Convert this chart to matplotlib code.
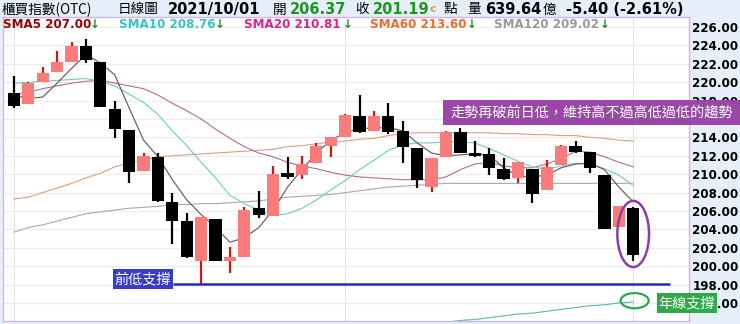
import matplotlib
matplotlib.use('Agg')
import matplotlib.pyplot as plt
from matplotlib.patches import Ellipse, Rectangle
import numpy as np

# OHLC (daily, last candle = 2021/10/01)
opens = [218.83, 217.63, 220.02, 221.11, 222.20, 223.93, 222.20, 217.09, 214.80, 210.35,
         211.87, 206.98, 204.91, 200.57, 205.13, 200.57, 201.00, 206.33, 205.46, 210.13,
         209.91, 211.22, 213.07, 214.04, 216.33, 214.70, 216.33, 214.70, 212.85, 208.61,
         211.87, 214.59, 212.30, 212.20, 210.57, 209.59, 210.57, 208.28, 211.00, 213.07,
         212.41, 209.91, 204.26, 206.37]
highs = [220.67, 220.00, 221.65, 223.39, 224.37, 224.70, 222.20, 217.96, 214.80, 212.30,
         212.30, 207.96, 205.78, 205.35, 205.13, 202.09, 206.43, 208.17, 210.89, 211.87,
         211.98, 213.39, 214.04, 216.50, 218.61, 216.87, 217.74, 215.78, 212.85, 211.76,
         214.65, 215.02, 213.61, 212.85, 211.76, 211.33, 210.60, 211.54, 213.20, 213.61,
         212.45, 209.95, 206.54, 206.45]
lows = [217.20, 217.60, 220.00, 221.10, 222.20, 222.09, 217.30, 213.93, 209.04, 210.35,
        207.00, 202.41, 200.89, 198.10, 200.57, 199.26, 201.00, 205.24, 205.46, 209.48,
        209.48, 211.22, 211.87, 214.04, 214.50, 214.70, 214.40, 211.22, 208.50, 208.07,
        211.87, 212.30, 211.90, 209.91, 209.40, 209.04, 206.87, 208.28, 211.00, 212.30,
        210.13, 204.00, 204.26, 200.57]
closes = [217.41, 219.91, 221.00, 222.20, 223.93, 222.41, 217.30, 214.91, 210.24, 211.98,
          207.09, 204.91, 201.00, 205.35, 200.57, 201.00, 206.11, 205.57, 210.02, 209.70,
          211.11, 213.07, 214.04, 216.43, 214.59, 216.33, 214.59, 212.96, 209.37, 211.76,
          214.59, 212.30, 211.98, 210.67, 209.48, 211.33, 207.85, 210.78, 213.07, 212.41,
          210.67, 204.04, 206.54, 201.19]

sma5 = [218.6, 218.2, 218.4, 219.9, 221.5, 223.0, 222.1, 220.8, 217.2, 213.7,
        211.9, 209.4, 207.2, 205.6, 204.2, 202.6, 203.1, 204.2, 206.1, 208.6,
        210.5, 212.3, 213.7, 214.5, 215.0, 215.0, 215.1, 214.7, 213.4, 212.3,
        212.0, 212.1, 212.2, 212.1, 210.7, 209.8, 209.7, 209.9, 210.7, 211.1,
        211.2, 210.5, 208.6, 207.0]
sma10 = [219.9, 220.0, 220.1, 220.2, 220.3, 220.4, 220.1, 219.6, 218.7, 217.8,
         216.5, 214.7, 213.1, 211.3, 209.6, 207.7, 206.8, 206.1, 205.5, 205.7,
         206.3, 207.2, 208.3, 209.3, 210.5, 211.5, 212.6, 213.2, 213.4, 213.4,
         213.5, 213.5, 213.4, 212.8, 212.1, 211.4, 210.8, 210.5, 210.9, 211.2,
         211.1, 210.6, 209.9, 208.76]
sma20 = [218.7, 218.9, 219.3, 219.6, 219.9, 220.1, 220.2, 219.9, 219.6, 219.3,
         218.6, 217.7, 216.9, 216.0, 214.9, 213.9, 213.0, 212.3, 211.9, 211.3,
         210.9, 210.6, 210.2, 209.9, 209.7, 209.6, 209.5, 209.4, 209.4, 209.4,
         209.7, 210.5, 211.1, 211.3, 210.9, 210.7, 210.7, 211.1, 211.7, 212.5,
         212.4, 211.9, 211.3, 210.81]
sma60 = [207.3, 207.5, 208.0, 208.5, 209.0, 209.6, 210.1, 210.8, 211.2, 211.5,
         211.9, 212.0, 212.1, 212.2, 212.3, 212.4, 212.5, 212.6, 212.7, 213.0,
         213.1, 213.3, 213.5, 213.6, 213.8, 213.9, 214.2, 214.4, 214.5, 214.5,
         214.5, 214.5, 214.5, 214.5, 214.4, 214.4, 214.3, 214.3, 214.2, 214.2,
         214.0, 213.9, 213.7, 213.6]
sma120 = [203.7, 204.2, 204.5, 204.9, 205.3, 205.7, 205.9, 206.1, 206.3, 206.4,
          206.5, 206.7, 206.7, 206.8, 206.8, 206.9, 207.0, 207.1, 207.3, 207.5,
          207.6, 207.7, 207.8, 208.0, 208.2, 208.4, 208.6, 208.7, 208.8, 208.9,
          209.0, 209.0, 209.0, 209.0, 209.0, 209.0, 209.0, 209.0, 209.0, 209.0,
          209.0, 209.0, 209.0, 209.02]
# annual line (only the tail is visible at the bottom)
year_start = 30
sma240 = [193.9, 194.1, 194.2, 194.4, 194.6, 194.8, 194.9, 195.1, 195.3, 195.5,
          195.7, 195.8, 196.0, 196.1]
month_starts = [0, 23, 43]
prev_low = 198.07

legend_items = [('SMA5 207.00', '#990000'), ('SMA10 208.76', '#33c4c4'),
                ('SMA20 210.81', '#e0208a'), ('SMA60 213.60', '#f06a2a'),
                ('SMA120 209.02', '#999999')]

W, H = 740, 324
BG = '#e6eff9'
CJK = ['Noto Sans CJK TC', 'DejaVu Sans']
GREEN = '#1e951e'


def fx(x):
    return x / W


def fy(y):
    return 1 - y / H


fig = plt.figure(figsize=(W / 100, H / 100), dpi=100, facecolor=BG)
ax = fig.add_axes([fx(3), fy(321), fx(689) - fx(3), fy(17) - fy(321)])
ax.set_facecolor('white')

n = len(closes)
x = np.arange(n)

# grid
for v in range(196, 228, 2):
    ax.axhline(v, color='#ececec', lw=0.8, zorder=0)
for m in month_starts:
    ax.axvline(m, color='#e2e2e2', lw=0.8, zorder=0)

# moving averages
ax.plot(x, sma120, color='#a8a8a8', lw=0.8, zorder=1)
ax.plot(x, sma60, color='#d8a080', lw=0.8, zorder=1)
ax.plot(x, sma20, color='#b46a98', lw=0.8, zorder=1)
ax.plot(x, sma10, color='#6cccc4', lw=0.8, zorder=1)
ax.plot(x, sma5, color='#6a5050', lw=0.8, zorder=1)
ax.plot(x[year_start:year_start + len(sma240)], sma240, color='#5bb5b5', lw=0.8, zorder=1)

# candles
for i in range(n):
    o, h, l, c = opens[i], highs[i], lows[i], closes[i]
    up = c >= o
    wick_c = '#e01010' if up else 'black'
    body_c = '#fb7a7a' if up else 'black'
    ax.vlines(i, l, h, color=wick_c, lw=1.6, zorder=2)
    bottom = min(o, c)
    height = max(abs(c - o), 0.15)
    ax.bar(i, height, bottom=bottom, width=0.85, color=body_c, zorder=3)

# previous low support line
ax.hlines(prev_low, 11.04, 45.56, color='#2a2ac8', lw=1.8, zorder=4)

# circles
ax.add_patch(Ellipse((43, 203.5), 2.2, 7.2, fill=False, ec='#8e3fa0', lw=1.8, zorder=5))
ax.add_patch(Ellipse((43.1, 196.25), 1.95, 1.65, fill=False, ec='#2ea84a', lw=1.6, zorder=5))

ax.set_xlim(-0.76, 46.875)
ax.set_ylim(194.04, 227.09)
ax.yaxis.tick_right()
ticks = np.arange(196, 227, 2)
ax.set_yticks(ticks)
# 216 sits fully under the purple note in the reference
ax.set_yticklabels(['' if v == 216 else '%.2f' % v for v in ticks],
                   fontsize=8.6, fontweight='bold', family='DejaVu Sans')
ax.tick_params(axis='y', length=0, pad=2.5)
ax.set_xticks([])
for s in ax.spines.values():
    s.set_color('#d4b2e2')
    s.set_linewidth(1)

# header line
yh = fy(9.5)
fig.text(fx(2), yh, '櫃買指數(OTC)', family=CJK, fontsize=9.8, va='center')
fig.text(fx(118), yh, '日線圖', family=CJK, fontsize=9.8, va='center')
fig.text(fx(168), yh, '2021/10/01', fontsize=10.5, fontweight='bold', va='center')
fig.text(fx(273), yh, '開', family=CJK, fontsize=9.8, va='center')
fig.text(fx(290), yh, '206.37', fontsize=10.5, fontweight='bold', color=GREEN, va='center')
fig.text(fx(355), yh, '收', family=CJK, fontsize=9.8, va='center')
fig.text(fx(373), yh, '201.19', fontsize=10.5, fontweight='bold', color=GREEN, va='center')
fig.text(fx(430), yh, 'c', fontsize=8, fontweight='bold', color='#d4a060', va='center')
fig.text(fx(443), yh, '點', family=CJK, fontsize=9.8, va='center')
fig.text(fx(467), yh, '量', family=CJK, fontsize=9.8, va='center')
fig.text(fx(485), yh, '639.64', fontsize=10.5, fontweight='bold', va='center')
fig.text(fx(543), yh, '億', family=CJK, fontsize=9.8, va='center')
fig.text(fx(566), yh, '-5.40 (-2.61%)', fontsize=10.5, fontweight='bold', va='center')

# legend line
yl = fy(25)
leg_x = [3, 119, 244, 370, 494]
arrow_x = [90, 215, 343, 467, 600]
for (label, col), lx, axx in zip(legend_items, leg_x, arrow_x):
    fig.text(fx(lx), yl, label, fontsize=8.6, fontweight='bold', color=col, va='center')
    fig.text(fx(axx), yl, '↓', fontsize=8.6, fontweight='bold', color='#2a8a2a', va='center')


def box(x0, y0, x1, y1, fc, txt, size):
    fig.add_artist(Rectangle((fx(x0), fy(y1)), fx(x1) - fx(x0), fy(y0) - fy(y1),
                             transform=fig.transFigure, fc=fc, ec='none', zorder=6))
    fig.text(fx((x0 + x1) / 2), fy((y0 + y1) / 2), txt, family=CJK, fontsize=size,
             color='white', ha='center', va='center', zorder=7)


box(443, 100, 740, 125, '#9a48a8', '走勢再破前日低，維持高不過高低過低的趨勢', 10.2)
box(113, 269, 173, 289, '#3a3cc8', '前低支撐', 10.2)
box(657, 293, 717, 313, '#2ea84a', '年線支撐', 10.2)

fig.savefig('out.png', dpi=100, facecolor=BG)
